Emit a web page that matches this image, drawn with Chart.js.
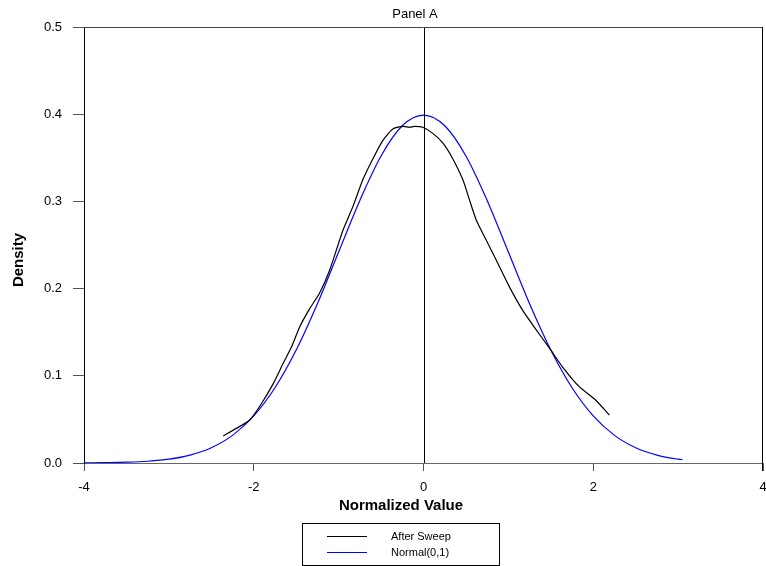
<!DOCTYPE html>
<html><head><meta charset="utf-8">
<script src="https://cdn.jsdelivr.net/npm/chart.js@4.4.1/dist/chart.umd.min.js"></script>
<style>html,body{margin:0;padding:0;background:#fff}#wrap{width:766px;height:566px}</style>
</head><body><div id="wrap"><canvas id="c" width="766" height="566"></canvas></div>
<script>
const titleText = "Panel A";
const xTitle = "Normalized Value";
const yTitle = "Density";
const seriesLabels = ["After Sweep", "Normal(0,1)"];
const seriesColors = ["#000000", "#0000ff"];
const afterX = [-2.36,-2.2,-2.05,-1.91,-1.77,-1.655,-1.556,-1.459,-1.341,-1.224,-1.106,-0.949,-0.832,-0.714,-0.596,-0.478,-0.361,-0.243,-0.165,-0.106,-0.008,0.11,0.227,0.345,0.463,0.541,0.62,0.737,0.855,1.012,1.169,1.326,1.482,1.639,1.835,2.03,2.19];
const afterY = [0.031,0.040,0.049,0.068,0.091,0.114,0.133,0.156,0.177,0.195,0.221,0.267,0.294,0.325,0.349,0.370,0.383,0.386,0.385,0.386,0.385,0.378,0.367,0.349,0.325,0.302,0.279,0.256,0.233,0.202,0.175,0.153,0.132,0.110,0.0875,0.072,0.055];
const normX = [-4,-3.75,-3.5,-3.25,-3,-2.75,-2.5,-2.25,-2,-1.75,-1.5,-1.25,-1,-0.75,-0.5,-0.25,0,0.25,0.5,0.75,1,1.25,1.5,1.75,2,2.25,2.5,2.75,3,3.05];
const normY = [0.0001,0.0004,0.0009,0.0020,0.0044,0.0091,0.0175,0.0317,0.0540,0.0863,0.1295,0.1826,0.2420,0.3011,0.3521,0.3867,0.3989,0.3867,0.3521,0.3011,0.2420,0.1826,0.1295,0.0863,0.0540,0.0317,0.0175,0.0091,0.0044,0.0038];
const xTicks = [-4,-2,0,2,4];
const yTicks = [0,0.1,0.2,0.3,0.4,0.5];

const FONT = "Arial, 'Liberation Sans', sans-serif";

const deco = {
  id: 'deco',
  afterDatasetsDraw(chart) {
    const ctx = chart.ctx, a = chart.chartArea;
    const xs = chart.scales.x;
    ctx.save();
    const x0 = Math.round(xs.getPixelForValue(0)) + 0.5;
    ctx.strokeStyle = '#000'; ctx.lineWidth = 1;
    ctx.beginPath(); ctx.moveTo(x0, a.top); ctx.lineTo(x0, a.bottom); ctx.stroke();
    ctx.strokeStyle = '#444';
    ctx.beginPath(); ctx.moveTo(a.left, a.top + 0.5); ctx.lineTo(a.right, a.top + 0.5); ctx.stroke();
    ctx.strokeStyle = '#000';
    ctx.beginPath(); ctx.moveTo(a.right - 0.5, a.top); ctx.lineTo(a.right - 0.5, a.bottom + 8); ctx.stroke();
    ctx.restore();
  },
  afterDraw(chart) {
    const ctx = chart.ctx;
    ctx.save();
    ctx.fillStyle = '#000';
    ctx.textAlign = 'center'; ctx.textBaseline = 'middle';
    ctx.font = "13px " + FONT;
    ctx.fillText(titleText, 415, 14);
    ctx.font = "bold 15px " + FONT;
    ctx.fillText(xTitle, 401, 506);
    ctx.save();
    ctx.translate(19, 260); ctx.rotate(-Math.PI / 2);
    ctx.fillText(yTitle, 0, 0);
    ctx.restore();
    ctx.strokeStyle = '#000'; ctx.lineWidth = 1;
    ctx.strokeRect(302.5, 523.5, 197, 42);
    ctx.font = "11px " + FONT;
    ctx.textAlign = 'left';
    const rows = [536, 552];
    chart.data.datasets.forEach((ds, i) => {
      ctx.strokeStyle = ds.borderColor;
      ctx.beginPath(); ctx.moveTo(327, rows[i] + 0.5); ctx.lineTo(367, rows[i] + 0.5); ctx.stroke();
      ctx.fillStyle = '#000';
      ctx.fillText(ds.label, 391, rows[i] + 1);
    });
    ctx.restore();
  }
};

new Chart(document.getElementById('c'), {
  type: 'line',
  data: {
    datasets: [
      { label: seriesLabels[0], data: afterX.map((x, i) => ({x, y: afterY[i]})), borderColor: seriesColors[0], borderWidth: 1.2, pointRadius: 0, tension: 0.2, fill: false },
      { label: seriesLabels[1], data: normX.map((x, i) => ({x, y: normY[i]})), borderColor: seriesColors[1], borderWidth: 1.2, pointRadius: 0, cubicInterpolationMode: 'monotone', fill: false }
    ]
  },
  options: {
    responsive: false, animation: false,
    layout: { padding: { top: 27, right: 3, left: 0, bottom: 51 } },
    plugins: { legend: { display: false }, title: { display: false }, tooltip: { enabled: false } },
    scales: {
      x: {
        type: 'linear', min: -4, max: 4,
        afterBuildTicks: s => { s.ticks = xTicks.map(v => ({value: v})); },
        afterFit: s => { s.height = 52; s.paddingLeft = 0; s.paddingRight = 0; },
        grid: { drawOnChartArea: false, tickLength: 8, tickColor: '#555' },
        border: { display: true, color: '#666', width: 1 },
        ticks: { color: '#000', font: { size: 13, family: FONT }, padding: 9, maxRotation: 0, callback: v => String(v) }
      },
      y: {
        type: 'linear', min: 0, max: 0.5,
        afterBuildTicks: s => { s.ticks = yTicks.map(v => ({value: v})); },
        afterFit: s => { s.width = 84; s.paddingTop = 0; s.paddingBottom = 0; },
        grid: { drawOnChartArea: false, tickLength: 11, tickColor: '#555' },
        border: { display: true, color: '#000', width: 1 },
        ticks: { color: '#000', font: { size: 13, family: FONT }, padding: 11, callback: v => v.toFixed(1) }
      }
    }
  },
  plugins: [deco]
});
</script></body></html>
